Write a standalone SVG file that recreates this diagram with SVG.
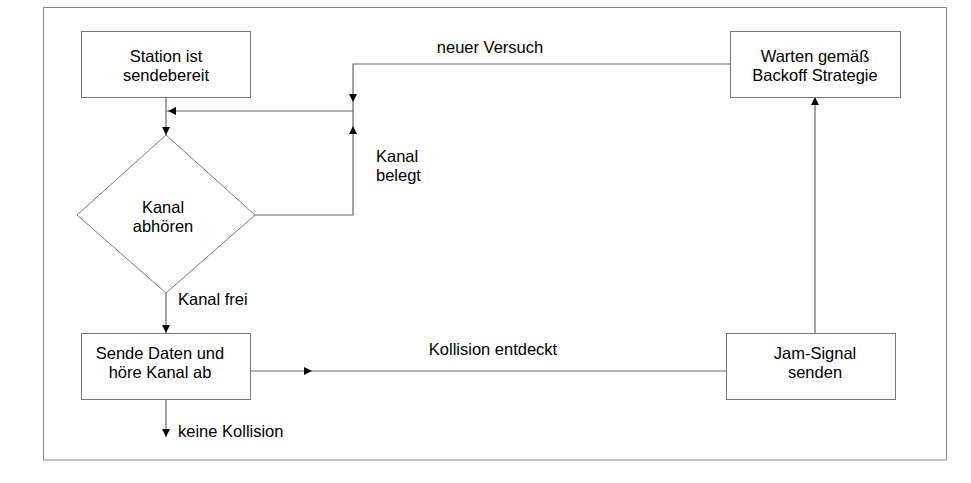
<svg xmlns="http://www.w3.org/2000/svg" width="971" height="483" viewBox="0 0 971 483">
<style>
.box{fill:#fff;stroke:#777;stroke-width:1}
.ln{fill:none;stroke:#666;stroke-width:1.2}
.ah{fill:#000}
text{font-family:"Liberation Sans",Arial,sans-serif;font-size:16.5px;fill:#000}
.c{text-anchor:middle}
</style>
<rect x="0" y="0" width="971" height="483" fill="#fff"/>
<rect x="43.5" y="7.5" width="903" height="452.5" fill="none" stroke="#888" stroke-width="1"/>
<g id="connectors">
<path class="ln" d="M166 97V135"/>
<path class="ah" d="M162 127L170 127L166 135Z"/>
<path class="ln" d="M353 111H166"/>
<path class="ah" d="M168 111L176 107L176 115Z"/>
<path class="ln" d="M730 64H353V111"/>
<path class="ah" d="M349 94L357 94L353 102Z"/>
<path class="ln" d="M255 215H353V111"/>
<path class="ah" d="M349 134L357 134L353 126Z"/>
<path class="ln" d="M166 293V333"/>
<path class="ah" d="M162 325L170 325L166 333Z"/>
<path class="ln" d="M251 371H726"/>
<path class="ah" d="M304 367L312 371L304 375Z"/>
<path class="ln" d="M815 333V97"/>
<path class="ah" d="M811 105L819 105L815 97Z"/>
<path class="ln" d="M166 399V437"/>
<path class="ah" d="M162 429L170 429L166 437Z"/>
<text x="490" y="53" class="c">neuer Versuch</text>
<text x="376" y="162">Kanal</text>
<text x="376" y="181">belegt</text>
<text x="178" y="305">Kanal frei</text>
<text x="493" y="355" class="c">Kollision entdeckt</text>
<text x="178" y="437">keine Kollision</text>
</g>
<g id="station">
<rect class="box" x="81.5" y="31.5" width="169" height="66"/>
<text x="166" y="62" class="c">Station ist</text>
<text x="166" y="81" class="c">sendebereit</text>
</g>
<g id="abhoeren">
<path class="box" d="M166 135L255 215L166 293L77 215Z"/>
<text x="163" y="213" class="c">Kanal</text>
<text x="163" y="232" class="c">abhören</text>
</g>
<g id="warten">
<rect class="box" x="730.5" y="31.5" width="170" height="66"/>
<text x="815" y="62" class="c">Warten gemäß</text>
<text x="815" y="81" class="c">Backoff Strategie</text>
</g>
<g id="senden">
<rect class="box" x="81.5" y="333.5" width="169" height="66"/>
<text x="160" y="359" class="c">Sende Daten und</text>
<text x="160" y="378" class="c">höre Kanal ab</text>
</g>
<g id="jam">
<rect class="box" x="726.5" y="333.5" width="169" height="66"/>
<text x="815" y="359" class="c">Jam-Signal</text>
<text x="815" y="378" class="c">senden</text>
</g>
</svg>
